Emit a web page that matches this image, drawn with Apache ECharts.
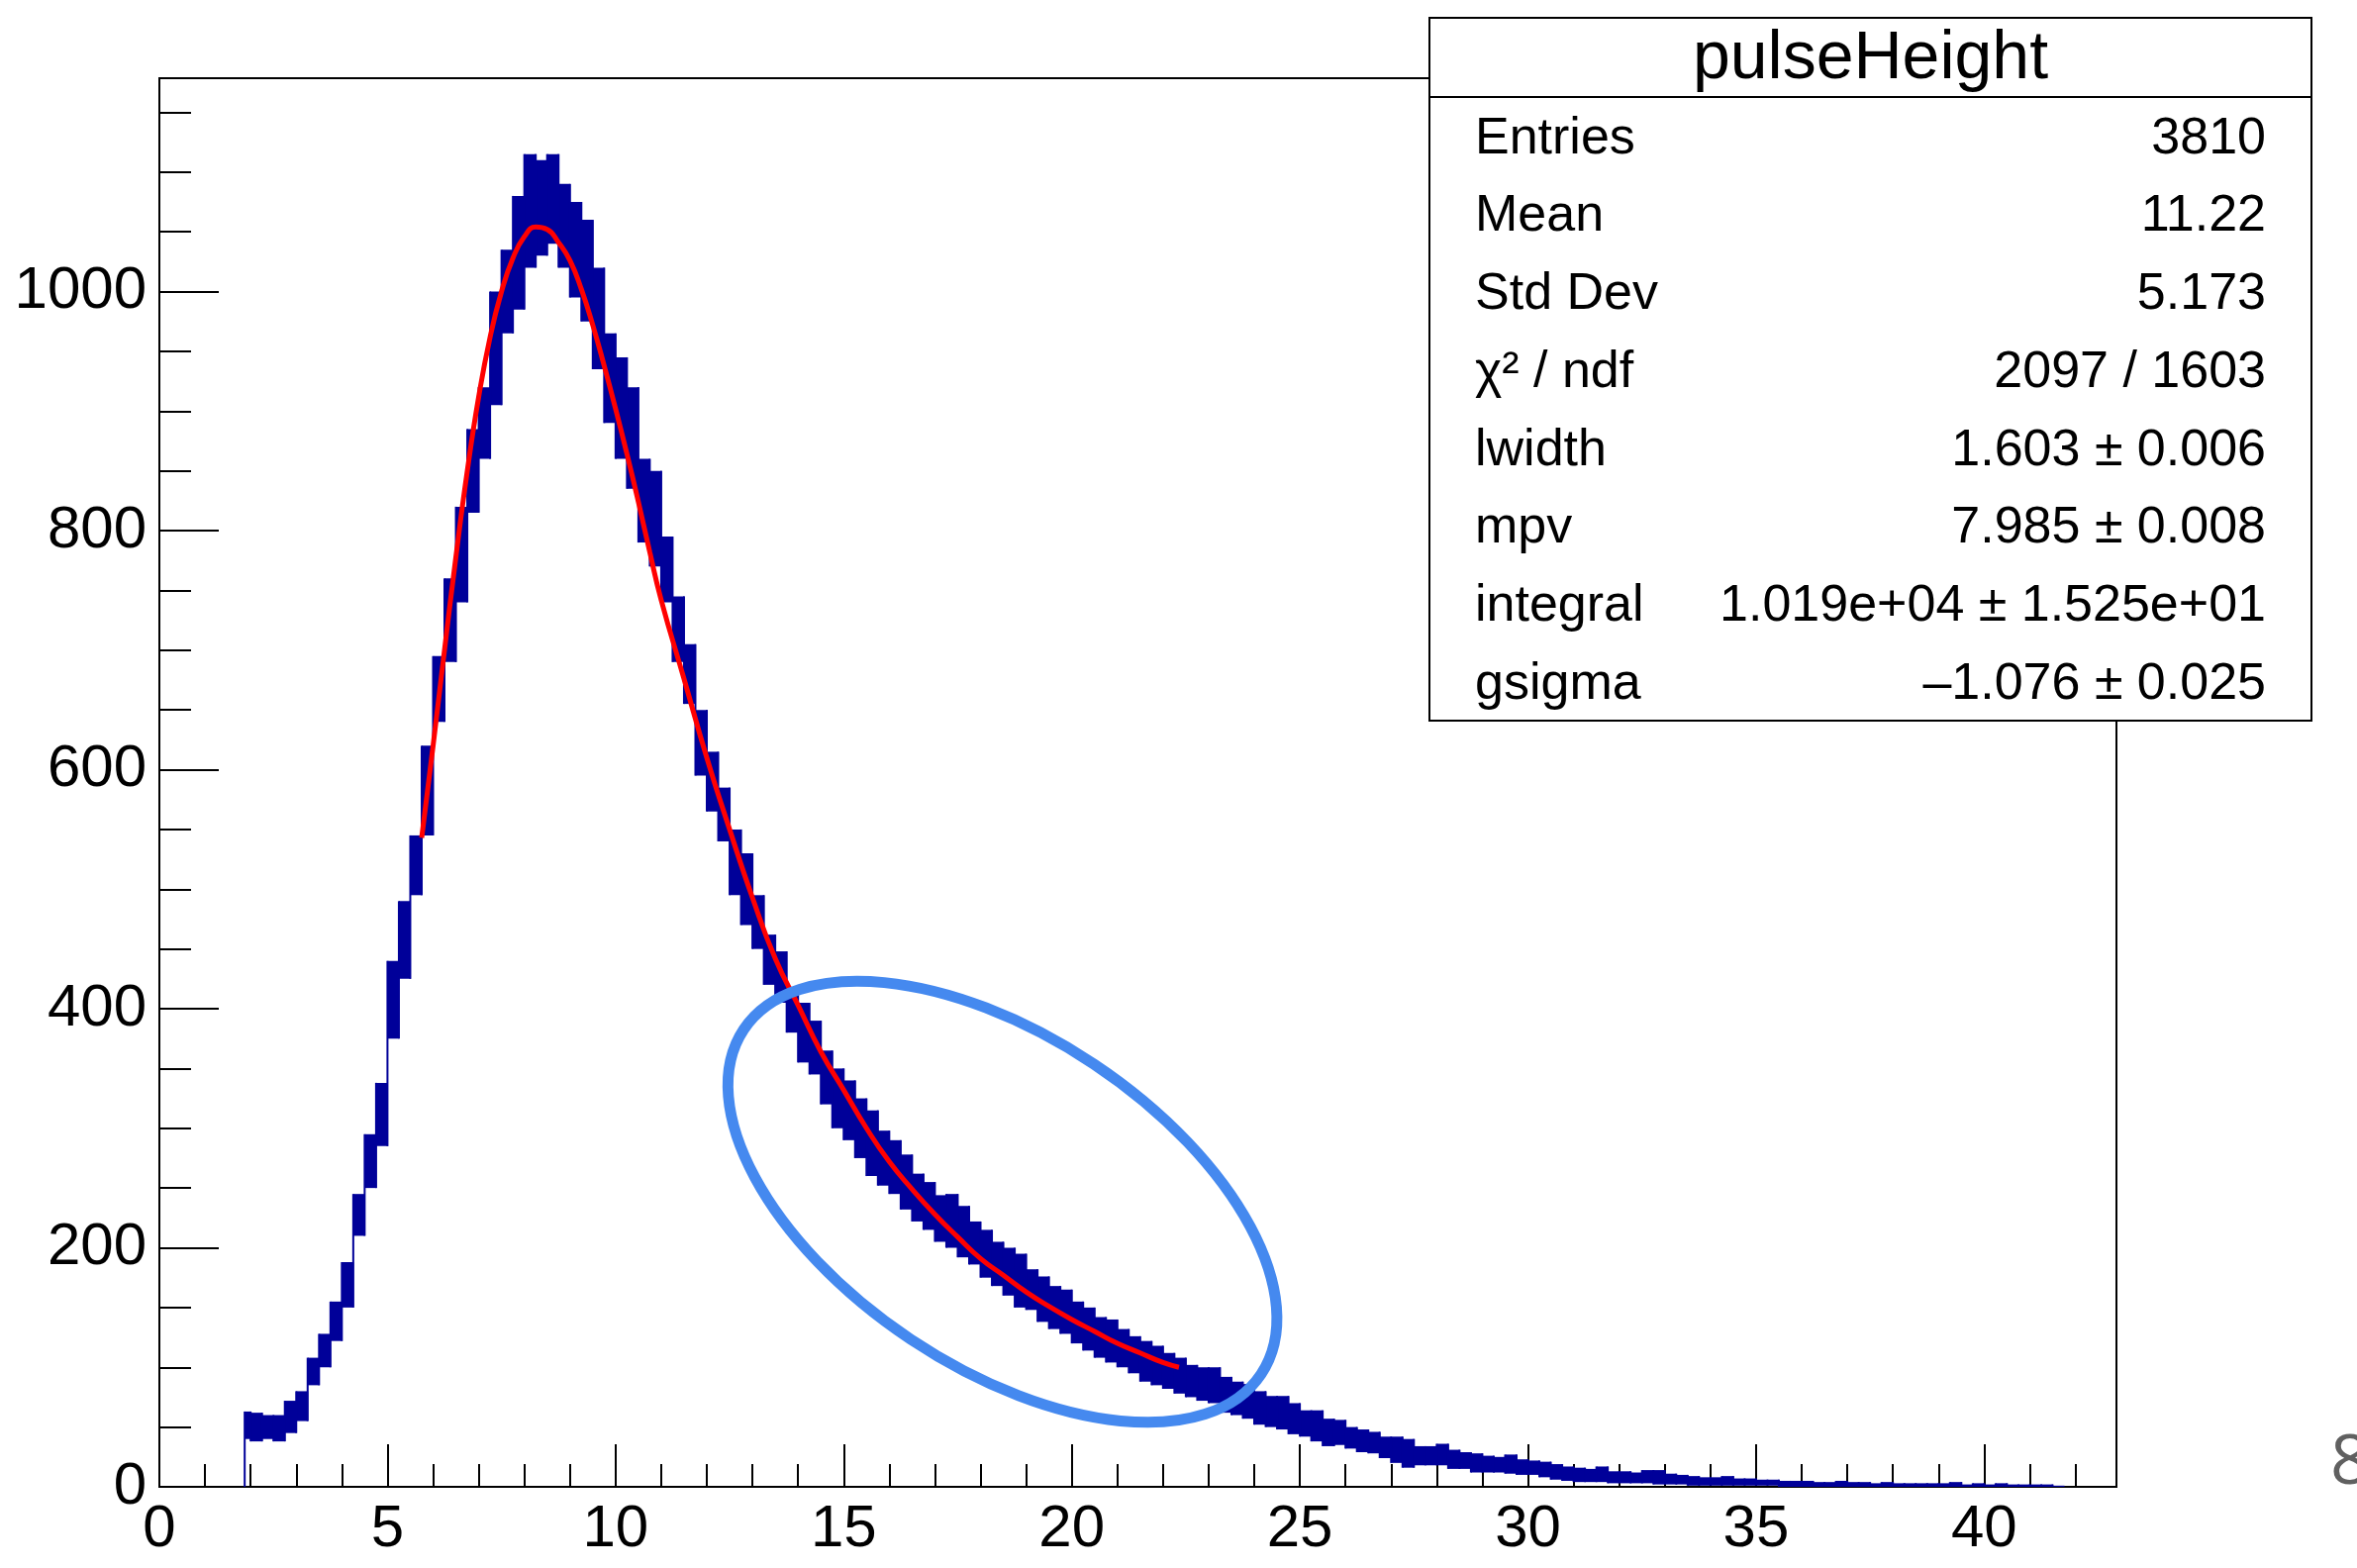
<!DOCTYPE html>
<html>
<head>
<meta charset="utf-8">
<script src="https://cdn.jsdelivr.net/npm/echarts@6/dist/echarts.min.js"></script>
<style>
  html, body { margin: 0; padding: 0; background: #fff; }
  #chart { width: 2381px; height: 1584px; }
</style>
</head>
<body>
<div id="chart"></div>
<script>
// histogram band: bin 0 starts at 1.87, then 0.25 wide bins from 2.0
const firstEdge = 1.87
const binStart = 2.0
const binWidth = 0.25
const histLow = [
  40,
  38, 40, 38, 45,        // 2
  55, 85, 100, 122,      // 3
  150, 210, 250, 285,    // 4
  375, 425, 495, 545,    // 5
  640, 690, 740, 815,    // 6
  860, 905, 965, 985,    // 7
  1020, 1030, 1040, 1020, // 8
  995, 975, 935, 890,    // 9
  860, 835, 790, 770,    // 10
  740, 690, 655, 595,    // 11
  565, 540, 495, 470,    // 12
  450, 420, 405, 380,    // 13
  355, 345, 320, 300,    // 14
  290, 275, 260, 252,    // 15
  245, 232, 222, 215,    // 16
  205, 200, 192, 186,    // 17
  175, 168, 160, 150,    // 18
  148, 138, 132, 128,    // 19
  120, 114, 108, 104,    // 20
  100, 95, 88, 85,       // 21
  82, 78, 75, 72,        // 22
  70, 62, 60, 57,        // 23
  52, 50, 48, 44,        // 24
  42, 38, 34, 35,        // 25
  32, 29, 28, 24,        // 26
  20, 16, 18, 18,        // 27
  18, 15, 15, 12,        // 28
  12, 12, 11, 10,        // 29
  10, 8, 6, 5,           // 30
  4, 4, 4, 3,            // 31
  3, 3, 3, 2,            // 32
  2, 2, 1, 1,            // 33
  1, 1, 1, 1,            // 34
  1, 1, 0, 0,            // 35
  0, 0, 0, 0,            // 36
  0, 0, 0, 0,            // 37
  0, 0, 0, 0,            // 38
  0, 0, 0, 0,            // 39
  0, 0, 0, 0,            // 40
  0, 0, 0                // 41
]
const histHigh = [
  63,
  62, 60, 60, 72,
  80, 108, 128, 155,
  188, 245, 295, 338,
  440, 490, 545, 620,
  695, 760, 820, 885,
  920, 1000, 1035, 1080,
  1115, 1110, 1115, 1090,
  1075, 1060, 1020, 965,
  945, 920, 860, 850,
  795, 745, 705, 650,
  615, 585, 550, 530,
  495, 462, 448, 415,
  405, 390, 365, 350,
  340, 325, 315, 298,
  290, 278, 262, 255,
  244, 245, 235, 222,
  215, 205, 200, 195,
  182, 176, 168, 165,
  155, 150, 142, 140,
  132, 126, 122, 118,
  112, 108, 102, 100,
  100, 92, 88, 86,
  80, 76, 76, 70,
  64, 64, 57, 56,
  50, 48, 46, 42,
  42, 40, 34, 34,
  36, 31, 29, 28,
  26, 25, 27, 23,
  22, 21, 19, 17,
  16, 15, 17, 13,
  13, 12, 14, 14,
  11, 10, 9, 8,
  8, 9, 7, 7,
  6, 6, 5, 5,
  5, 4, 4, 5,
  4, 4, 3, 4,
  3, 3, 3, 3,
  3, 4, 2, 3,
  2, 3, 2, 2,
  2, 2, 1
]

// red fit curve
const fitX = [5.75, 6.0, 6.25, 6.5, 6.75, 7.0, 7.25, 7.5, 7.75, 8.0, 8.25, 8.5, 8.75, 9.0, 9.25, 9.5, 9.75,
  10.0, 10.25, 10.5, 10.75, 11.0, 11.5, 12.0, 12.5, 13.0, 13.5, 14.0, 14.5, 15.0, 15.5, 16.0, 16.5,
  17.0, 17.5, 18.0, 18.5, 19.0, 19.5, 20.0, 20.5, 21.0, 21.5, 22.0, 22.35]
const fitY = [543, 620, 700, 778, 850, 912, 962, 1000, 1028, 1046, 1054, 1052, 1041, 1026, 1002, 972, 938,
  902, 864, 824, 782, 742, 676, 610, 550, 493, 442, 403, 364, 332, 300, 272, 249,
  228, 209, 191, 177, 163, 151, 140, 130, 120, 112, 104, 100]

// stats box
const statsTitle = 'pulseHeight'
const statsLabels = ['Entries', 'Mean', 'Std Dev', 'χ² / ndf', 'lwidth', 'mpv', 'integral', 'gsigma']
const statsValues = ['3810', '11.22', '5.173', '2097 / 1603', '1.603 ± 0.006', '7.985 ± 0.008',
  '1.019e+04 ± 1.525e+01', '\u20131.076 ± 0.025']

// axis ranges
const xMax = 42.9
const yMax = 1178.5
// highlighted region (data coords)
const circleCenter = [18.48, 238.5]

const NAVY = '#000099'
const FONT = 'Liberation Sans'

const histData = histLow.map((lo, i) => {
  const x0 = i === 0 ? firstEdge : binStart + (i - 1) * binWidth
  const x1 = binStart + i * binWidth
  const prevLo = i === 0 ? 0 : histLow[i - 1]
  const prevHi = i === 0 ? 0 : histHigh[i - 1]
  return [x0, x1, lo, histHigh[i], prevLo, prevHi]
})

const chart = echarts.init(document.getElementById('chart'))

const axisCommon = {
  type: 'value',
  axisLine: { show: true, onZero: false, lineStyle: { color: '#000', width: 2 } },
  splitLine: { show: false },
}

chart.setOption({
  animation: false,
  backgroundColor: '#fff',
  grid: {
    left: 161, right: 243, top: 79, bottom: 82,
    show: true, borderColor: '#000', borderWidth: 2,
  },
  xAxis: {
    ...axisCommon,
    min: 0, max: xMax, interval: 5,
    axisTick: { show: true, inside: true, length: 43, lineStyle: { color: '#000', width: 2 } },
    minorTick: { show: true, splitNumber: 5, length: 23, lineStyle: { color: '#000', width: 2 } },
    axisLabel: {
      color: '#000', fontSize: 60, fontFamily: FONT, margin: 13, showMaxLabel: false,
      formatter: (v) => String(v),
    },
  },
  yAxis: {
    ...axisCommon,
    min: 0, max: yMax, interval: 200,
    axisTick: { show: true, inside: true, length: 60, lineStyle: { color: '#000', width: 2 } },
    minorTick: { show: true, splitNumber: 4, length: 32, lineStyle: { color: '#000', width: 2 } },
    axisLabel: {
      color: '#000', fontSize: 60, fontFamily: FONT, margin: 13, showMaxLabel: false,
      formatter: (v) => String(v),
    },
  },
  series: [
    {
      type: 'custom',
      clip: true,
      data: histData,
      encode: { x: [0, 1], y: [2, 3] },
      renderItem(params, api) {
        const x0 = api.value(0), x1 = api.value(1)
        const lo = api.value(2), hi = api.value(3)
        const pLo = api.value(4), pHi = api.value(5)
        const a = api.coord([x0, hi])
        const b = api.coord([x1, lo])
        const c0 = api.coord([x0, Math.min(lo, pLo)])
        const c1 = api.coord([x0, Math.max(hi, pHi)])
        return {
          type: 'group',
          children: [
            {
              type: 'rect',
              shape: { x: a[0], y: a[1], width: b[0] - a[0] + 0.5, height: Math.max(b[1] - a[1], 2) },
              style: { fill: NAVY },
            },
            {
              type: 'line',
              shape: { x1: c0[0], y1: c0[1], x2: c1[0], y2: c1[1] },
              style: { stroke: NAVY, lineWidth: 2 },
            },
          ],
        }
      },
      z: 2,
    },
    {
      type: 'line',
      data: fitX.map((x, i) => [x, fitY[i]]),
      smooth: true,
      showSymbol: false,
      lineStyle: { color: '#ff0000', width: 5 },
      z: 3,
    },
  ],
})

const center = chart.convertToPixel({ gridIndex: 0 }, circleCenter)

const box = { left: 1444, right: 2335, top: 18, bottom: 728, titleBottom: 98 }
const rowH = (box.bottom - box.titleBottom) / statsLabels.length
const graphics = [
  {
    type: 'ellipse',
    x: center[0], y: center[1],
    rotation: -0.588,
    shape: { cx: 0, cy: 0, rx: 314, ry: 167 },
    style: { fill: 'none', stroke: '#4589ef', lineWidth: 11 },
    z: 100,
  },
  {
    type: 'rect',
    shape: { x: box.left, y: box.top, width: box.right - box.left, height: box.bottom - box.top },
    style: { fill: '#fff', stroke: '#000', lineWidth: 2 },
    z: 110,
  },
  {
    type: 'line',
    shape: { x1: box.left, y1: box.titleBottom, x2: box.right, y2: box.titleBottom },
    style: { stroke: '#000', lineWidth: 2 },
    z: 111,
  },
  {
    type: 'text',
    x: (box.left + box.right) / 2, y: (box.top + box.titleBottom) / 2 + 2,
    style: { text: statsTitle, fill: '#000', font: '68px "Liberation Sans"', align: 'center', verticalAlign: 'middle' },
    z: 111,
  },
  {
    type: 'text',
    x: 2354, y: 1444,
    style: { text: '8', fill: '#606060', font: '70px "Open Sans"', align: 'left', verticalAlign: 'top' },
    z: 111,
  },
]
statsLabels.forEach((label, i) => {
  const cy = box.titleBottom + rowH * (i + 0.5) + 3
  graphics.push({
    type: 'text', x: 1490, y: cy,
    style: { text: label, fill: '#000', font: '52px "Liberation Sans"', align: 'left', verticalAlign: 'middle' },
    z: 111,
  })
  graphics.push({
    type: 'text', x: 2289, y: cy,
    style: { text: statsValues[i], fill: '#000', font: '52px "Liberation Sans"', align: 'right', verticalAlign: 'middle' },
    z: 111,
  })
})

chart.setOption({ graphic: graphics })
</script>
</body>
</html>
